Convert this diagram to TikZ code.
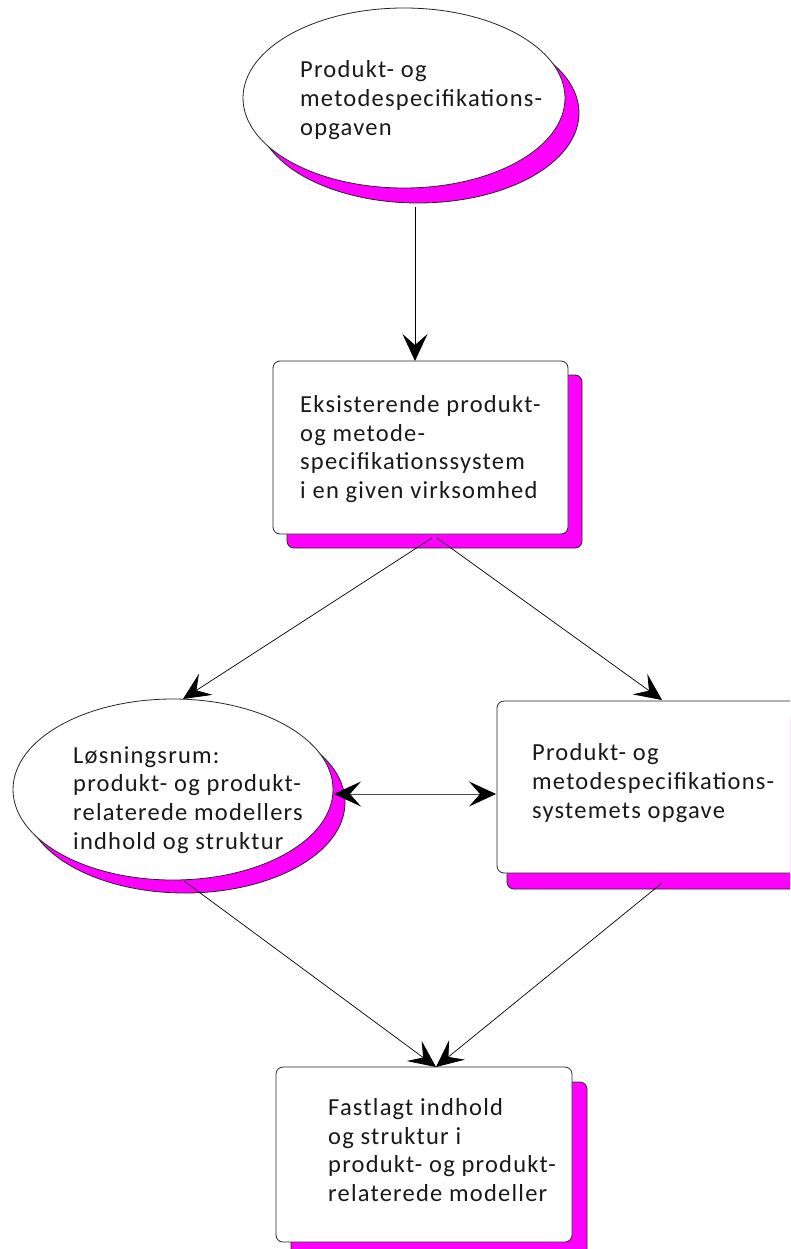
\documentclass[tikz,border=0pt]{standalone}
\usepackage{fontspec}
\setmainfont{Carlito}[LetterSpace=5]
\usetikzlibrary{arrows.meta,shapes.geometric}
\definecolor{shadowmag}{RGB}{255,0,255}
\tikzset{
  shapeline/.style={draw=black!85, line width=0.8pt},
  shade box/.style={shapeline, fill=shadowmag, rounded corners=7pt},
  main box/.style={shapeline, fill=white, rounded corners=7pt},
  shade ell/.style={shapeline, fill=shadowmag, ellipse, inner sep=0pt, outer sep=0pt},
  main ell/.style={shapeline, fill=white, ellipse, inner sep=0pt, outer sep=0pt},
  label text/.style={anchor=west, align=left, inner sep=0pt, font=\fontsize{24.5}{28.8}\selectfont, text=black!90},
  conn/.style={draw=black, line width=0.7pt, -{Stealth[length=27pt,width=25pt,inset=11pt]}},
  dconn/.style={draw=black!70, line width=0.7pt, {Stealth[length=27pt,width=25pt,inset=11pt,black]}-{Stealth[length=27pt,width=25pt,inset=11pt,black]}}
}
\begin{document}
\begin{tikzpicture}[x=1pt,y=-1pt]
\useasboundingbox (0,0) rectangle (790,1249);
\clip (0,0) rectangle (790,1249);
% shadows
\node[shade ell, minimum width=322pt, minimum height=180pt] (e1s) at (418,113) {};
\node[shade ell, minimum width=320pt, minimum height=181pt] (e2s) at (185,802.5) {};
\path[shade box] (287,375) rectangle (582,548);
\path[shade box] (507,717) rectangle (815,889);
\path[shade box] (291,1082) rectangle (587,1262);
% main shapes
\node[main ell, minimum width=322pt, minimum height=180pt] (e1) at (404,98) {};
\node[main ell, minimum width=320pt, minimum height=181pt] (e2) at (173,789.5) {};
\path[main box] (273,361) rectangle (568,534) node[midway, inner sep=0pt] (b1) {};
\path[main box] (497,701) rectangle (805,873) node[midway, inner sep=0pt] (b2) {};
\path[main box] (276,1067) rectangle (572,1242) node[midway, inner sep=0pt] (b3) {};
% texts
\node[label text] (t1) at (300,100) {Produkt- og\\metodespecifikations-\\opgaven};
\node[label text] (t2) at (300,449) {Eksisterende produkt-\\og metode-\\specifikationssystem\\i en given virksomhed};
\node[label text] (t3) at (73,800) {Løsningsrum:\\produkt- og produkt-\\relaterede modellers\\indhold og struktur};
\node[label text] (t4) at (532,783) {Produkt- og\\metodespecifikations-\\systemets opgave};
\node[label text] (t5) at (328,1150) {Fastlagt indhold\\og struktur i\\produkt- og produkt-\\relaterede modeller};
% connector end points
\coordinate (e1out) at (415,207);
\coordinate (b1in) at (415,361);
\coordinate (b1outL) at (432,538);
\coordinate (b1outR) at (437,538);
\coordinate (e2in) at (183,699);
\coordinate (b2in) at (662,700);
\coordinate (e2right) at (334,794);
\coordinate (b2left) at (496,794);
\coordinate (e2out) at (184,881);
\coordinate (b2out) at (662,883);
\coordinate (b3in) at (436,1067);
% connectors
\draw[conn] (e1out) -- (b1in);
\draw[conn] (b1outL) -- (e2in);
\draw[conn] (b1outR) -- (b2in);
\draw[dconn] (e2right) -- (b2left);
\draw[conn] (e2out) -- (b3in);
\draw[conn] (b2out) -- (b3in);
\end{tikzpicture}
\end{document}
